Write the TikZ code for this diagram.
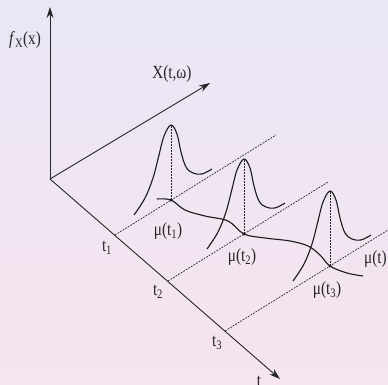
\documentclass[tikz,border=0pt]{standalone}
\usepackage{fontspec}
\setmainfont{Liberation Serif}
\usetikzlibrary{arrows.meta}
\tikzset{ax/.style={-{Stealth[length=11pt,width=7pt]},line width=.9pt,draw=black!85},
guide/.style={dash pattern=on 1.8pt off 1.2pt,line width=.7pt,draw=black!85},
curve/.style={line width=1.1pt,draw=black!90},
lbl/.style={font=\fontsize{18.5}{18.5}\selectfont,inner sep=0pt,text=black!85}}
\newcommand\sq[1]{\scalebox{.82}[1]{#1}}
\newcommand\bell[1]{\draw[curve,shift={(#1)}]plot[smooth,tension=.6]coordinates{(-37,15)(-26,-2)(-18,-22)(-12,-45)(-7,-64)(0,-75)(6,-66)(10,-48)(15,-33)(22,-27)(31,-26)(41,-31)};}
\begin{document}
\begin{tikzpicture}[x=1pt,y=-1pt]
\shade[top color={rgb,255:red,234;green,230;blue,246},bottom color={rgb,255:red,246;green,228;blue,238}](0,0)rectangle(388,385);
\useasboundingbox(0,0)rectangle(388,385);
\coordinate(O)at(50,179);\coordinate(fx)at(50,7);\coordinate(Xw)at(210,83);\coordinate(tt)at(280,379);
\draw[ax](O)--(fx);\draw[ax](O)--(Xw);\draw[ax](O)--(tt);
\node[lbl](lfx)at(25,40){\sq{\textit{f}\textsubscript{X}(x)}};\node[lbl](lXw)at(172,74){\sq{X(t,ω)}};\node[lbl,anchor=base](ltt)at(259,386){\sq{t}};
% time slices
\coordinate(t1)at(115,235);\coordinate(t2)at(168,281);\coordinate(t3)at(225,331);
\coordinate(e1)at(276,135);\coordinate(e2)at(328,182);\coordinate(e3)at(388,230);
\draw[guide](t1)--(e1);\draw[guide](t2)--(e2);\draw[guide](t3)--(e3);
\coordinate(m1)at(171,200);\coordinate(m2)at(244,234);\coordinate(m3)at(330,266);
\foreach\m in{m1,m2,m3}{\draw[guide](\m)--++(0,-75);\fill[black!85](\m)circle(1.7pt);\bell{\m}}
\draw[curve]plot[smooth,tension=.6]coordinates{(157,199)(m1)(185,210)(205,216)(228,221)(m2)(265,238)(290,241)(308,246)(320,255)(m3)(347,273)(363,276)};
\node[lbl](lt1)at(107,248){\sq{t\textsubscript{1}}};\node[lbl](lt2)at(158,292){\sq{t\textsubscript{2}}};\node[lbl](lt3)at(217,343){\sq{t\textsubscript{3}}};
\node[lbl](lm1)at(168,231){\sq{μ(t\textsubscript{1})}};\node[lbl](lm2)at(242,257){\sq{μ(t\textsubscript{2})}};\node[lbl](lm3)at(327,290){\sq{μ(t\textsubscript{3})}};
\node[lbl,anchor=west](lmt)at(364,259){\sq{μ(t)}};
\end{tikzpicture}
\end{document}
